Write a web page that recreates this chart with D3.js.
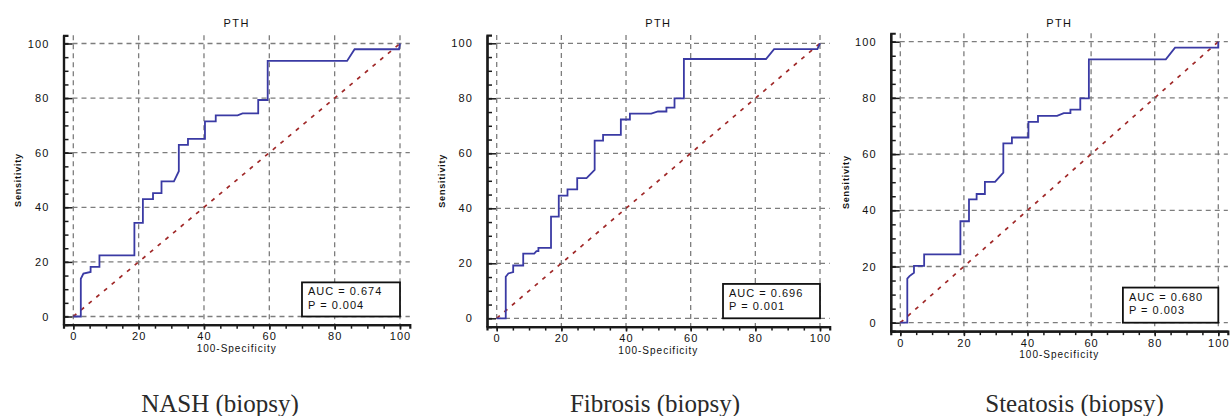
<!DOCTYPE html>
<html lang="en">
<head>
<meta charset="UTF-8" />
<title>PTH ROC curves</title>
<script src="https://cdnjs.cloudflare.com/ajax/libs/d3/7.8.5/d3.min.js"></script>
<style>
  body { margin: 0; background: #fff; }
  .tick text { font-family: "Liberation Sans", Arial, sans-serif; }
</style>
</head>
<body>
<svg id="fig" width="1230" height="416"></svg>
<script>
// ---- data ----
const captions = ["NASH (biopsy)", "Fibrosis (biopsy)", "Steatosis (biopsy)"];
const aucLabels = ["AUC = 0.674", "AUC = 0.696", "AUC = 0.680"];
const pLabels = ["P = 0.004", "P = 0.001", "P = 0.003"];
const majorTicks = [0, 20, 40, 60, 80, 100];
const minorTicks = d3.range(0, 101, 5);

// 100-Specificity / Sensitivity
const nashFpr = [0, 2.3, 2.3, 3.1, 5.3, 5.3, 8.0, 8.0, 18.7, 18.7, 21.3, 21.3, 24.4, 24.4, 27.0, 27.0, 30.8, 32.3, 32.3, 35.1, 35.1, 40.3, 40.3, 43.6, 43.6, 50.3, 51.8, 56.6, 56.6, 59.5, 59.5, 83.8, 86.1, 99.7, 100];
const nashTpr = [0, 0, 13.8, 15.7, 16.3, 18.2, 18.2, 22.4, 22.4, 34.3, 34.3, 43.0, 43.0, 45.2, 45.2, 49.5, 49.5, 53.2, 62.9, 62.9, 65.1, 65.1, 71.5, 71.5, 73.7, 73.7, 74.4, 74.4, 79.3, 79.3, 93.6, 93.6, 97.9, 97.9, 100];

const fibFpr = [0, 2.8, 2.8, 3.6, 5.1, 5.1, 8.2, 8.2, 11.6, 12.3, 12.9, 12.9, 16.8, 16.8, 19.2, 19.2, 21.9, 21.9, 24.9, 24.9, 27.8, 30.3, 30.3, 32.9, 32.9, 38.4, 38.4, 41.2, 41.2, 47.8, 49.9, 52.5, 52.5, 55.0, 55.0, 57.9, 57.9, 83.3, 85.8, 99.2, 100];
const fibTpr = [0, 0, 15.1, 16.3, 16.8, 19.2, 19.2, 23.5, 23.5, 24.4, 24.4, 25.6, 25.6, 37.0, 37.0, 44.6, 44.6, 46.9, 46.9, 51.0, 51.0, 54.0, 64.6, 64.6, 66.7, 66.7, 72.3, 72.3, 74.4, 74.4, 75.2, 75.2, 76.6, 76.6, 80.0, 80.0, 94.3, 94.3, 97.9, 97.9, 100];

const steFpr = [0, 2.2, 2.2, 2.9, 4.3, 4.3, 7.5, 7.5, 18.9, 18.9, 21.6, 21.6, 24.0, 24.0, 26.6, 26.6, 29.8, 32.4, 32.4, 35.1, 35.1, 40.3, 40.3, 43.3, 43.3, 49.3, 51.4, 53.5, 53.5, 56.6, 56.6, 59.3, 59.3, 83.5, 86.4, 100, 100];
const steTpr = [0, 0, 15.7, 16.6, 17.8, 20.2, 20.2, 24.3, 24.3, 36.1, 36.1, 43.9, 43.9, 45.8, 45.8, 50.1, 50.1, 53.4, 63.8, 63.8, 65.9, 65.9, 71.5, 71.5, 73.6, 73.6, 74.6, 74.6, 75.8, 75.8, 79.8, 79.8, 93.7, 93.7, 97.9, 97.9, 100];

const fprs = [nashFpr, fibFpr, steFpr];
const tprs = [nashTpr, fibTpr, steTpr];

// where each panel sits (pixel positions of 0 and 100 on each axis)
const layout = [
  { x0: 73.3, x100: 400, y0: 316.5, y100: 43.5, cap: 220 },
  { x0: 496.7, x100: 820, y0: 318.3, y100: 43.3, cap: 655 },
  { x0: 900.3, x100: 1218.3, y0: 322.7, y100: 41.7, cap: 1074.5 }
];

const svg = d3.select("#fig");
const sans = '"Liberation Sans", Arial, sans-serif';

layout.forEach((L, i) => {
  const kx = (L.x100 - L.x0) / 100, ky = (L.y0 - L.y100) / 100;
  const x = d3.scaleLinear().domain([-3, 103]).range([L.x0 - 3 * kx, L.x100 + 3 * kx]);
  const y = d3.scaleLinear().domain([-3, 103]).range([L.y0 + 3 * ky, L.y100 - 3 * ky]);
  const g = svg.append("g");

  // dashed grid
  g.selectAll(".vg").data(majorTicks).join("line")
    .attr("x1", d => x(d)).attr("x2", d => x(d))
    .attr("y1", y(103)).attr("y2", y(-3))
    .attr("stroke", "#7d7d7d").attr("stroke-width", 1.3).attr("stroke-dasharray", "5,4");
  g.selectAll(".hg").data(majorTicks).join("line")
    .attr("x1", x(-3)).attr("x2", x(103))
    .attr("y1", d => y(d)).attr("y2", d => y(d))
    .attr("stroke", "#7d7d7d").attr("stroke-width", 1.3).attr("stroke-dasharray", "5,4");

  // reference diagonal
  g.append("line")
    .attr("x1", x(0)).attr("y1", y(0)).attr("x2", x(100)).attr("y2", y(100))
    .attr("stroke", "#a02828").attr("stroke-width", 1.7).attr("stroke-dasharray", "4,6");

  // ROC curve
  const pts = fprs[i].map((v, j) => [v, tprs[i][j]]);
  g.append("path")
    .attr("d", d3.line().x(d => x(d[0])).y(d => y(d[1]))(pts))
    .attr("fill", "none").attr("stroke", "#3a3aa4").attr("stroke-width", 1.8);

  // axes: minor ticks, then major ticks with labels
  const yMinor = g.append("g").attr("transform", `translate(${x(-3)},0)`)
    .call(d3.axisLeft(y).tickValues(minorTicks).tickSize(-5).tickFormat(""));
  const yMajor = g.append("g").attr("transform", `translate(${x(-3)},0)`)
    .call(d3.axisLeft(y).tickValues(majorTicks).tickSizeInner(-9).tickSizeOuter(0).tickPadding(14));
  const xMinor = g.append("g").attr("transform", `translate(0,${y(-3)})`)
    .call(d3.axisBottom(x).tickValues(minorTicks).tickSize(4).tickFormat(""));
  const xMajor = g.append("g").attr("transform", `translate(0,${y(-3)})`)
    .call(d3.axisBottom(x).tickValues(majorTicks).tickSizeInner(5).tickSizeOuter(0).tickPadding(3));

  [yMinor, yMajor, xMinor, xMajor].forEach(a => {
    a.select(".domain").attr("stroke", "#1a1a1a").attr("stroke-width", 2.2);
    a.selectAll(".tick line").attr("stroke", "#1a1a1a").attr("stroke-width", 1.5);
    a.selectAll(".tick text").attr("fill", "#111").attr("font-size", 11)
      .attr("letter-spacing", 1.1);
  });

  // title and axis titles
  g.append("text").attr("x", x(50)).attr("y", 26.5)
    .attr("text-anchor", "middle").attr("font-family", sans).attr("font-size", 11)
    .attr("letter-spacing", 1.4).attr("fill", "#111").text("PTH");
  g.append("text").attr("x", x(50)).attr("y", y(-3) + 27)
    .attr("text-anchor", "middle").attr("font-family", sans).attr("font-size", 10)
    .attr("letter-spacing", 1.0).attr("fill", "#111").text("100-Specificity");
  g.append("text")
    .attr("transform", `translate(${x(-3) - 42},${y(50)}) rotate(-90)`)
    .attr("text-anchor", "middle").attr("font-family", sans).attr("font-size", 9)
    .attr("font-weight", "bold").attr("letter-spacing", 0.8).attr("fill", "#111").text("Sensitivity");

  // AUC box
  const bx = x(70), by = y(12.5);
  g.append("rect").attr("x", bx).attr("y", by)
    .attr("width", x(100) - bx).attr("height", y(0) - by)
    .attr("fill", "#fff").attr("stroke", "#111").attr("stroke-width", 1.8);
  g.append("text").attr("x", bx + 6).attr("y", by + 13)
    .attr("font-family", sans).attr("font-size", 11).attr("letter-spacing", 1.0)
    .attr("fill", "#111").text(aucLabels[i]);
  g.append("text").attr("x", bx + 6).attr("y", by + 26.5)
    .attr("font-family", sans).attr("font-size", 11).attr("letter-spacing", 1.0)
    .attr("fill", "#111").text(pLabels[i]);

  // caption under the chart
  svg.append("text").attr("x", L.cap).attr("y", 411.5)
    .attr("text-anchor", "middle").attr("font-family", '"Liberation Serif", "Times New Roman", serif')
    .attr("font-size", 25).attr("fill", "#2a2a2a").text(captions[i]);
});
</script>
</body>
</html>
